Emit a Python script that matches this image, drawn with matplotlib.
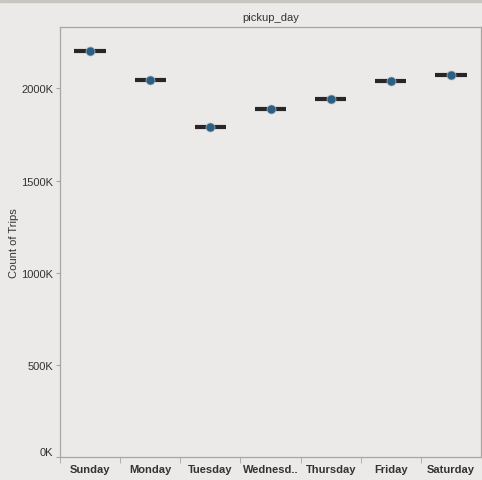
import matplotlib.pyplot as plt
import matplotlib.ticker as mticker

days = ['Sunday', 'Monday', 'Tuesday', 'Wednesd..', 'Thursday', 'Friday', 'Saturday']
trips_k = [2205, 2045, 1792, 1886, 1942, 2038, 2072]
y_ticks_k = [0, 500, 1000, 1500, 2000]

plt.rcParams['font.family'] = ['Liberation Sans', 'DejaVu Sans']

bg = '#ECEAE8'
edge = '#A8A5A2'
text_col = '#333333'

fig = plt.figure(figsize=(4.82, 4.81), dpi=100, facecolor=bg)
ax = fig.add_axes([60 / 482, 1 - 458 / 481, 421 / 482, 430 / 481], facecolor=bg)

# top dark strip
fig.patches.append(plt.Rectangle((0, 1 - 3 / 481), 1, 3 / 481, transform=fig.transFigure,
                                 color='#C9C5C1', zorder=0))

x = list(range(len(days)))
ax.hlines(trips_k, [i - 0.26 for i in x], [i + 0.26 for i in x], colors='#2B2626', linewidth=3, zorder=2)
ax.scatter(x, trips_k, s=42, color='#2F5F80', edgecolors='#9DB8CC', linewidths=0.5, zorder=3)

ax.set_xlim(-0.5, len(days) - 0.5)
ax.set_ylim(0, 2333)
ax.set_yticks(y_ticks_k)
ax.yaxis.set_major_formatter(mticker.FuncFormatter(lambda v, p: f'{int(v)}K'))
ax.tick_params(axis='y', length=3, color=edge, labelsize=8, labelcolor=text_col, pad=2)
ax.get_yticklabels()[0].set_va('bottom')

ax.set_xticks(x)
ax.set_xticklabels(days, fontsize=8, fontweight='bold', color=text_col)
ax.tick_params(axis='x', length=0, pad=5)
ax.set_xticks([i + 0.5 for i in range(-1, len(days) - 1)], minor=True)
ax.tick_params(axis='x', which='minor', length=4, color=edge)

for s in ax.spines.values():
    s.set_color(edge)
    s.set_linewidth(0.9)

ax.set_ylabel('Count of Trips', fontsize=8, color=text_col)
ax.yaxis.set_label_coords(-41 / 421, 0.5)
ax.set_title('pickup_day', fontsize=8, color=text_col, pad=5)

fig.savefig('out.png', dpi=100, facecolor=bg)
